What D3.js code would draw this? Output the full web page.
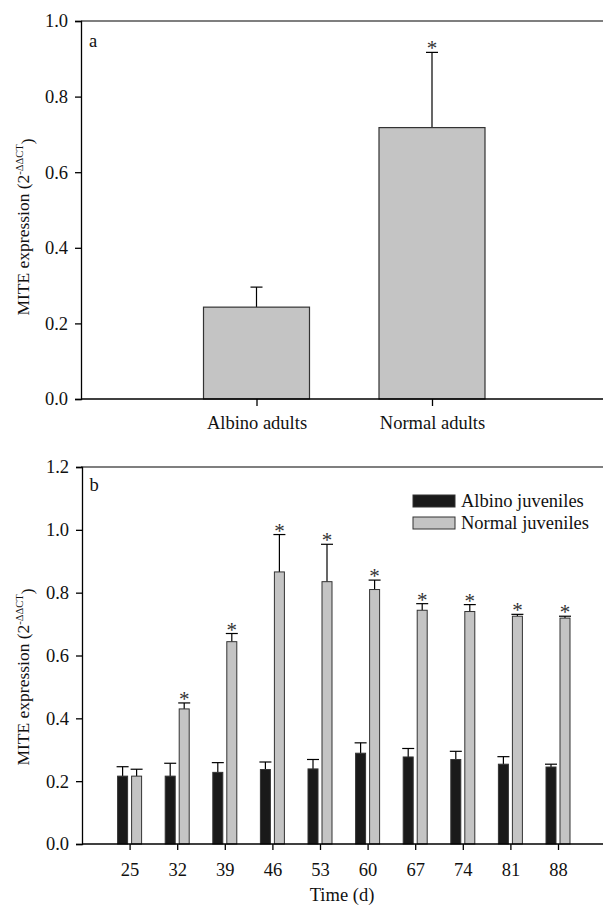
<!DOCTYPE html>
<html>
<head>
<meta charset="utf-8">
<script src="https://cdn.jsdelivr.net/npm/d3@7"></script>
<style>
  body { margin: 0; background: #fff; }
  svg { display: block; font-family: "Liberation Serif", "Times New Roman", serif; }
</style>
</head>
<body>
<div id="chart"></div>
<script>
// Panel a data
const adultGroups = ['Albino adults', 'Normal adults']
const adultMean = [0.243, 0.718]
const adultErr = [0.053, 0.199]
const adultSig = [false, true]

// Panel b data
const days = ['25', '32', '39', '46', '53', '60', '67', '74', '81', '88']
const albinoMean = [0.216, 0.216, 0.228, 0.237, 0.239, 0.289, 0.277, 0.269, 0.254, 0.245]
const albinoErr = [0.030, 0.041, 0.031, 0.024, 0.030, 0.033, 0.027, 0.026, 0.024, 0.009]
const normalMean = [0.216, 0.430, 0.644, 0.866, 0.835, 0.810, 0.744, 0.740, 0.725, 0.719]
const normalErr = [0.022, 0.019, 0.026, 0.119, 0.119, 0.030, 0.021, 0.022, 0.006, 0.006]
const normalSig = [false, true, true, true, true, true, true, true, true, true]

const seriesNames = ['Albino juveniles', 'Normal juveniles']
const seriesColors = ['#1a1a1a', '#c4c4c4']

const yTicksA = [0, 0.2, 0.4, 0.6, 0.8, 1.0]
const yTicksB = [0, 0.2, 0.4, 0.6, 0.8, 1.0, 1.2]

const width = 603,
  height = 907,
  left = 81,
  right = 603,
  fs = '18.5px'

let svg = d3.select('#chart')
  .append('svg')
  .attr('width', width)
  .attr('height', height)

// y axis title with superscript
let yTitle = (g, cy) => {
  const t = g.append('text')
    .attr('transform', `translate(23, ${cy}) rotate(-90)`)
    .attr('text-anchor', 'middle')
    .attr('dy', '0.35em')
    .attr('fill', '#111')
    .style('font-size', '17.5px')
  t.append('tspan').text('MITE expression (2')
  t.append('tspan').attr('dy', '-0.55em').style('font-size', '10.5px').text('-ΔΔCT')
  t.append('tspan').attr('dy', '0.55em').text(')')
}

let styleAxis = (g) => {
  g.selectAll('path').attr('stroke', '#000').attr('stroke-width', 1.3)
  g.selectAll('line').attr('stroke', '#000').attr('stroke-width', 1.3)
  g.selectAll('text')
    .style('font-family', '"Liberation Serif", serif')
    .style('font-size', fs)
    .attr('fill', '#111')
}

let errorBar = (g, x, yTop, yEnd, half) => {
  g.append('line').attr('x1', x).attr('x2', x).attr('y1', yTop).attr('y2', yEnd)
    .attr('stroke', '#000').attr('stroke-width', 1.2)
  g.append('line').attr('x1', x - half).attr('x2', x + half).attr('y1', yEnd).attr('y2', yEnd)
    .attr('stroke', '#000').attr('stroke-width', 1.2)
}

let star = (g, x, yEnd) => {
  g.append('text')
    .attr('x', x)
    .attr('y', yEnd + 3)
    .attr('text-anchor', 'middle')
    .attr('fill', '#333')
    .style('font-size', '21px')
    .text('*')
}

// ---------- Panel a ----------
let drawA = () => {
  const top = 21, bottom = 399
  const g = svg.append('g')

  const x = d3.scaleLinear().domain([0, 3]).range([left, left + 3 * 175.5])
  const y = d3.scaleLinear().domain([0, 1]).range([bottom, top])
  const bw = 106

  // top frame line
  g.append('line').attr('x1', left).attr('x2', right).attr('y1', y(1)).attr('y2', y(1))
    .attr('stroke', '#555').attr('stroke-width', 1.6)

  adultGroups.forEach((name, i) => {
    const cx = x(i + 1)
    errorBar(g, cx, y(adultMean[i]), y(adultMean[i] + adultErr[i]), 6)
    g.append('rect')
      .attr('x', cx - bw / 2)
      .attr('y', y(adultMean[i]))
      .attr('width', bw)
      .attr('height', y(0) - y(adultMean[i]))
      .attr('fill', '#c4c4c4')
      .attr('stroke', '#333')
      .attr('stroke-width', 1.2)
    if (adultSig[i]) star(g, cx, y(adultMean[i] + adultErr[i]))
  })

  g.append('g')
    .attr('transform', `translate(${left}, 0)`)
    .call(d3.axisLeft(y).tickValues(yTicksA).tickFormat(d3.format('.1f')).tickSizeOuter(0).tickSize(6).tickPadding(7))
    .call(styleAxis)

  const xa = d3.axisBottom(x).tickValues([1, 2]).tickFormat((d) => adultGroups[d - 1]).tickSizeOuter(0).tickSize(7).tickPadding(10)
  g.append('g')
    .attr('transform', `translate(0, ${bottom})`)
    .call(xa)
    .call(styleAxis)
    .select('.domain').attr('d', `M${left},0H${right}`)

  g.append('text').attr('x', 93).attr('y', 47).attr('text-anchor', 'middle')
    .attr('fill', '#111').style('font-size', fs).text('a')

  yTitle(g, 227)
}

// ---------- Panel b ----------
let drawB = () => {
  const top = 467, bottom = 844
  const g = svg.append('g')

  const x = d3.scaleLinear().domain([0, 11]).range([left + 1, left + 1 + 11 * 47.6])
  const y = d3.scaleLinear().domain([0, 1.2]).range([bottom, top])
  const bw = 10, off = 7

  g.append('line').attr('x1', left).attr('x2', right).attr('y1', y(1.2)).attr('y2', y(1.2))
    .attr('stroke', '#555').attr('stroke-width', 1.6)

  days.forEach((d, i) => {
    const cx = x(i + 1)
    const groups = [
      { m: albinoMean[i], e: albinoErr[i], c: seriesColors[0], dx: -off, sig: false },
      { m: normalMean[i], e: normalErr[i], c: seriesColors[1], dx: off, sig: normalSig[i] }
    ]
    groups.forEach((s) => {
      const bx = cx + s.dx
      errorBar(g, bx, y(s.m), y(s.m + s.e), 6)
      g.append('rect')
        .attr('x', bx - bw / 2)
        .attr('y', y(s.m))
        .attr('width', bw)
        .attr('height', y(0) - y(s.m))
        .attr('fill', s.c)
        .attr('stroke', '#333')
        .attr('stroke-width', 1)
      if (s.sig) star(g, bx, y(s.m + s.e))
    })
  })

  g.append('g')
    .attr('transform', `translate(${left + 1}, 0)`)
    .call(d3.axisLeft(y).tickValues(yTicksB).tickFormat(d3.format('.1f')).tickSizeOuter(0).tickSize(6).tickPadding(7))
    .call(styleAxis)

  g.append('g')
    .attr('transform', `translate(0, ${bottom})`)
    .call(d3.axisBottom(x).tickValues(d3.range(1, 11)).tickFormat((d) => days[d - 1]).tickSizeOuter(0).tickSize(6).tickPadding(13))
    .call(styleAxis)
    .select('.domain').attr('d', `M${left + 1},0H${right}`)

  g.append('text').attr('x', 342).attr('y', 901).attr('text-anchor', 'middle')
    .attr('fill', '#111').style('font-size', fs).text('Time (d)')

  g.append('text').attr('x', 94).attr('y', 491).attr('text-anchor', 'middle')
    .attr('fill', '#111').style('font-size', fs).text('b')

  // legend
  const lg = g.append('g').attr('transform', 'translate(413, 495)')
  seriesNames.forEach((n, i) => {
    lg.append('rect').attr('x', 0).attr('y', i * 22).attr('width', 42).attr('height', 12)
      .attr('fill', seriesColors[i]).attr('stroke', '#333').attr('stroke-width', 1)
    lg.append('text').attr('x', 48).attr('y', i * 22 + 12)
      .attr('fill', '#111').style('font-size', fs).text(n)
  })

  yTitle(g, 677)
}

drawA()
drawB()
</script>
</body>
</html>
